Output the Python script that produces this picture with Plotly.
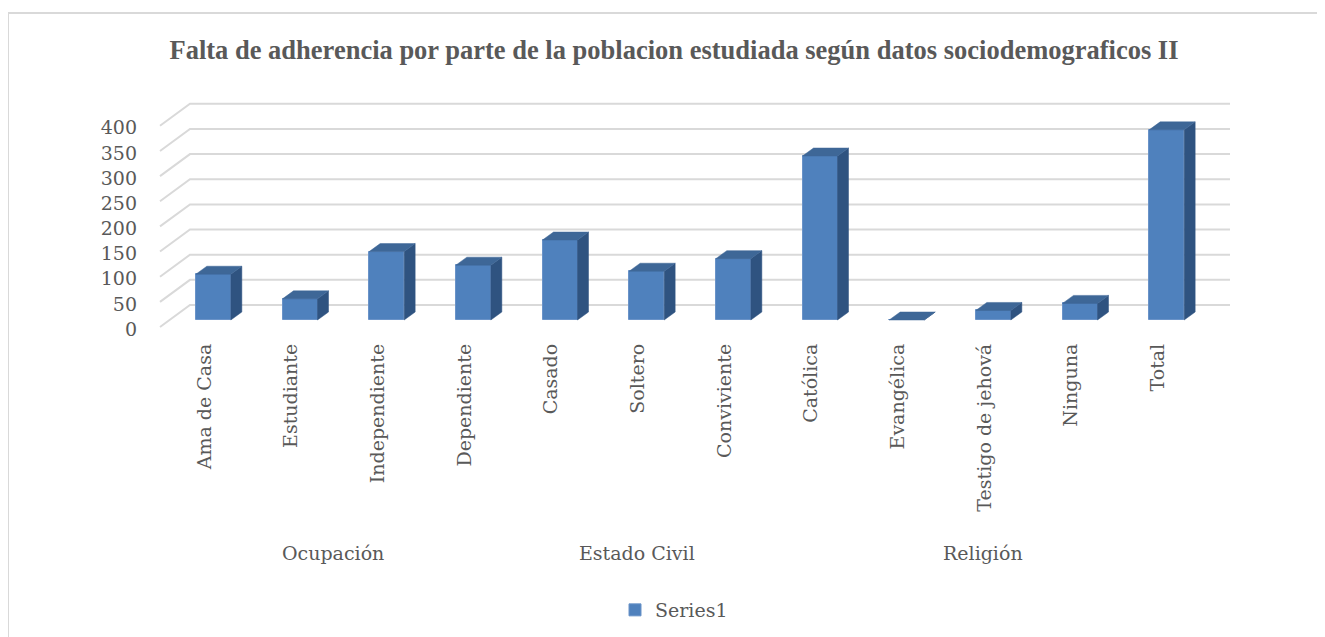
import plotly.graph_objects as go

# Data
categories = ["Ama de Casa", "Estudiante", "Independiente", "Dependiente",
              "Casado", "Soltero", "Conviviente",
              "Católica", "Evangélica", "Testigo de jehová", "Ninguna", "Total"]
values = [91, 42, 136, 109, 159, 97, 122, 326, 0, 19, 33, 378]
groups = ["Ocupación", "Estado Civil", "Religión"]
group_members = [[0, 1, 2, 3], [4, 5, 6], [7, 8, 9, 10, 11]]
y_ticks = [0, 50, 100, 150, 200, 250, 300, 350, 400]

# The page body has an 8px margin, so work in page pixels and shift.
OFF = 8
W, H = 1325 - OFF, 637 - OFF
PX_CAT = 86.67      # pixels per category
PX_VAL = 0.503      # pixels per value unit
left, right_edge = 158 - OFF, 1234 - OFF
top, bottom_edge = 95 - OFF, 330 - OFF

x_range = [-0.5 - 12 / PX_CAT, 11.5 + 24 / PX_CAT]
y_range = [-10 / PX_VAL, 225 / PX_VAL]

# 3d look: offsets of floor front / back and bar depth
front_dx, front_dy = -10 / PX_CAT, -7 / PX_VAL
back_dx, back_dy = 20 / PX_CAT, 15 / PX_VAL
bar_w = 35 / PX_CAT
depth_dx, depth_dy = 11 / PX_CAT, 8 / PX_VAL

FRONT = "#4F81BD"
TOP = "#3E6797"
SIDE = "#2F5380"
TEXT = "#595959"
SERIF = "DejaVu Serif"

fig = go.Figure()

fig.add_trace(go.Bar(
    x=list(range(len(categories))), y=values, width=bar_w, name="Series1",
    marker=dict(color=FRONT, line=dict(color="#6A93C8", width=1)),
    hoverinfo="skip",
))

# top and side faces
top_x, top_y, side_x, side_y = [], [], [], []
for i, v in enumerate(values):
    x0, x1 = i - bar_w / 2, i + bar_w / 2
    top_x += [x0, x1, x1 + depth_dx, x0 + depth_dx, x0, None]
    top_y += [v, v, v + depth_dy, v + depth_dy, v, None]
    side_x += [x1, x1, x1 + depth_dx, x1 + depth_dx, x1, None]
    side_y += [0, v, v + depth_dy, depth_dy, 0, None]

fig.add_trace(go.Scatter(x=side_x, y=side_y, fill="toself", fillcolor=SIDE,
                         mode="lines", line=dict(color=SIDE, width=0.5),
                         showlegend=False, hoverinfo="skip"))
fig.add_trace(go.Scatter(x=top_x, y=top_y, fill="toself", fillcolor=TOP,
                         mode="lines", line=dict(color=TOP, width=0.5),
                         showlegend=False, hoverinfo="skip"))

# slanted gridlines on floor edge + back wall
shapes = []
for v in y_ticks:
    xf, yf = -0.5 + front_dx, v + front_dy
    xb, yb = -0.5 + back_dx, v + back_dy
    xr = 11.5 + back_dx
    shapes.append(dict(type="path", xref="x", yref="y", layer="below",
                       path=f"M {xf},{yf} L {xb},{yb} L {xr},{yb}",
                       line=dict(color="#D9D9D9", width=2)))


def px_x(p):
    return (p - OFF - left) / (right_edge - left)


def px_y(p):
    return (bottom_edge - (p - OFF)) / (bottom_edge - top)


# chart border
shapes.append(dict(type="rect", xref="paper", yref="paper", layer="below",
                   x0=px_x(8), x1=px_x(1345), y0=px_y(13), y1=px_y(670),
                   line=dict(color="#D9D9D9", width=2)))

annotations = []
for g, members in zip(groups, group_members):
    annotations.append(dict(
        text=g, xref="x", yref="paper", x=sum(members) / len(members),
        y=px_y(553), xshift=-10, showarrow=False,
        xanchor="center", yanchor="middle",
        font=dict(family=SERIF, size=19, color=TEXT)))

fig.update_layout(
    width=W, height=H,
    margin=dict(l=left, r=W - right_edge, t=top, b=H - bottom_edge, autoexpand=False),
    paper_bgcolor="white", plot_bgcolor="white",
    title=dict(text="Falta de adherencia por parte de la poblacion estudiada según datos sociodemograficos II",
               x=(674 - OFF) / W, xref="container", xanchor="center",
               y=1 - (50 - OFF) / H, yref="container", yanchor="middle",
               font=dict(family="Liberation Serif", size=26.5, color=TEXT, weight="bold")),
    xaxis=dict(range=x_range, tickvals=list(range(len(categories))), ticktext=categories,
               tickangle=-90, showgrid=False, zeroline=False, showline=False, ticks="",
               ticklabelshift=-9, ticklabelstandoff=9,
               tickfont=dict(family=SERIF, size=19, color=TEXT), automargin=False,
               fixedrange=True),
    yaxis=dict(range=y_range, tickvals=y_ticks, showgrid=False, zeroline=False,
               showline=False, ticks="", ticklabelshift=9, ticklabelstandoff=20,
               tickfont=dict(family=SERIF, size=19, color=TEXT), automargin=False,
               fixedrange=True),
    legend=dict(orientation="h", xref="container", yref="container",
                x=(674 - OFF) / W, xanchor="center", y=1 - (610 - OFF) / H, yanchor="middle",
                font=dict(family=SERIF, size=19, color=TEXT)),
    shapes=shapes, annotations=annotations,
    bargap=0,
)

fig.write_html("out.html")
